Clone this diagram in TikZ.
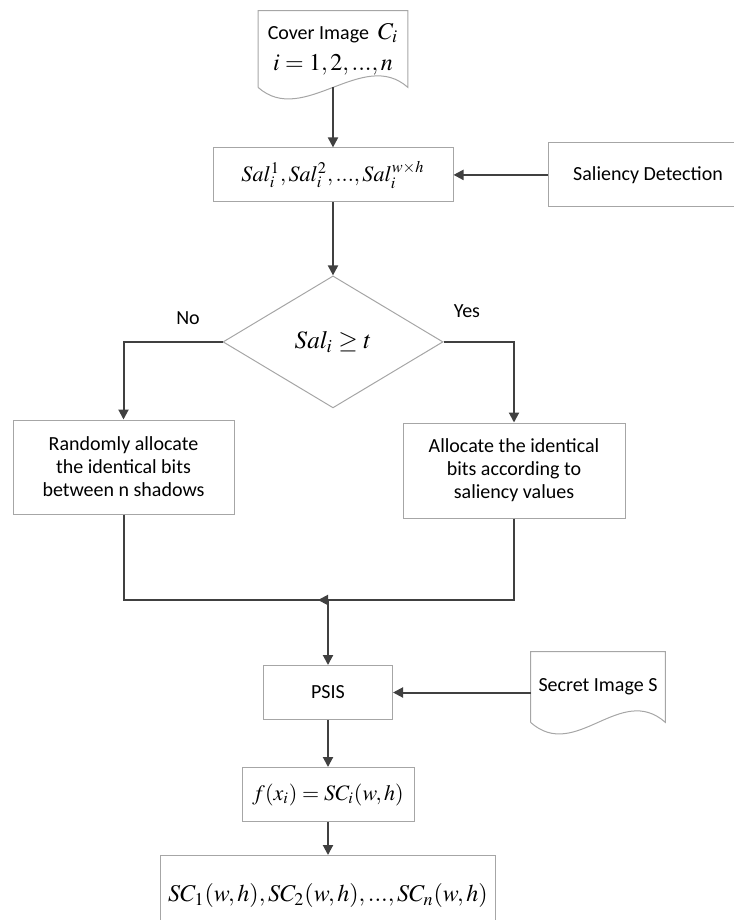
\documentclass[tikz,border=0pt]{standalone}
\usepackage{mathptmx}
\usepackage[no-math]{fontspec}
\setmainfont{Carlito}
\usepackage{xcolor}
\usepackage{tikz}
\usetikzlibrary{arrows.meta,positioning,shapes.geometric}

\definecolor{boxgray}{HTML}{A6A6A6}
\definecolor{linegray}{HTML}{404040}

% outline of a document node with a wavy lower edge
\newcommand{\wavydoc}[1]{%
  \draw[docline] (#1.south west) -- (#1.north west) -- (#1.north east) -- (#1.south east)
    .. controls +(-45,-40) and +(45,40) .. (#1.south west);}

\begin{document}
\begin{tikzpicture}[
      x=0.5pt, y=-0.5pt,
      txt/.style={font=\fontsize{10}{11.5}\selectfont},
      mth/.style={font=\fontsize{11}{13}\selectfont},
      box/.style={rectangle, draw=boxgray, line width=0.5pt, align=center,
                  inner sep=0pt, fill=white},
      doc/.style={rectangle, align=center, inner sep=0pt, txt},
      docline/.style={draw=boxgray, line width=0.5pt},
      dec/.style={diamond, draw=boxgray, line width=0.5pt, inner sep=0pt,
                  minimum width=110pt, minimum height=66pt,
                  font=\fontsize{12.5}{14}\selectfont},
      line/.style={draw=linegray, line width=1pt},
      arr/.style={-{Triangle[length=5pt,width=5pt]}, draw=linegray, line width=1pt}
    ]
    \useasboundingbox (0,0) rectangle (733,920);
    \node[doc, minimum width=74.5pt, minimum height=38pt] (cover) at (333,49)
      {Cover Image~~{\fontsize{12}{13}\selectfont$C_i$}\\[4pt]
       {\fontsize{12}{13}\selectfont$i=1,2,...,n$}};
    \wavydoc{cover}
    \node[box, mth, minimum width=120pt, minimum height=27pt, below=30pt of cover] (sal)
      {$Sal_i^1, Sal_i^2,..., Sal_i^{w\times h}$};
    \node[box, txt, minimum width=100pt, minimum height=32pt, right=47pt of sal] (saliency)
      {Saliency Detection};
    \node[dec, below=36.5pt of sal] (test) {$Sal_i \geq t$};
    \node[txt] (nolab) at (188,318) {No};
    \node[txt] (yeslab) at (467,311) {Yes};
    \node[box, txt, minimum width=110.5pt, minimum height=47pt] (rand) at (123.5,467)
      {Randomly allocate\\the identical bits\\between n shadows};
    \node[box, txt, minimum width=111pt, minimum height=47.5pt] (alloc) at (514,470.5)
      {Allocate the identical\\bits according to\\saliency values};
    \coordinate (join) at (328,600);
    \coordinate (tip) at (318,600);
    \node[box, txt, minimum width=64.5pt, minimum height=27pt, below=32.5pt of join] (psis)
      {PSIS};
    \node[doc, minimum width=67pt, minimum height=35pt] (secret) at (598,687)
      {Secret Image S};
    \wavydoc{secret}
    \node[box, mth, minimum width=86pt, minimum height=27pt, below=23.5pt of psis] (fx)
      {$f(x_i) = SC_i(w,h)$};
    \node[box, font=\fontsize{12}{14}\selectfont, minimum width=167.5pt, minimum height=40pt,
          below=16.5pt of fx] (shares)
      {$SC_1(w,h), SC_2(w,h),..., SC_n(w,h)$};
    \draw[arr] (cover) -- (sal);
    \draw[arr] (saliency) -- (sal);
    \draw[arr] (sal) -- (test);
    \draw[arr] (test.west) -| (rand);
    \draw[arr] (test.east) -| (alloc);
    \draw[line] (rand) |- (join);
    \draw[arr] (alloc) |- (tip);
    \draw[arr] (join) -- (psis);
    \draw[arr] (secret.west |- psis) -- (psis);
    \draw[arr] (psis) -- (fx);
    \draw[arr] (fx) -- (shares);
  \end{tikzpicture}
\end{document}
